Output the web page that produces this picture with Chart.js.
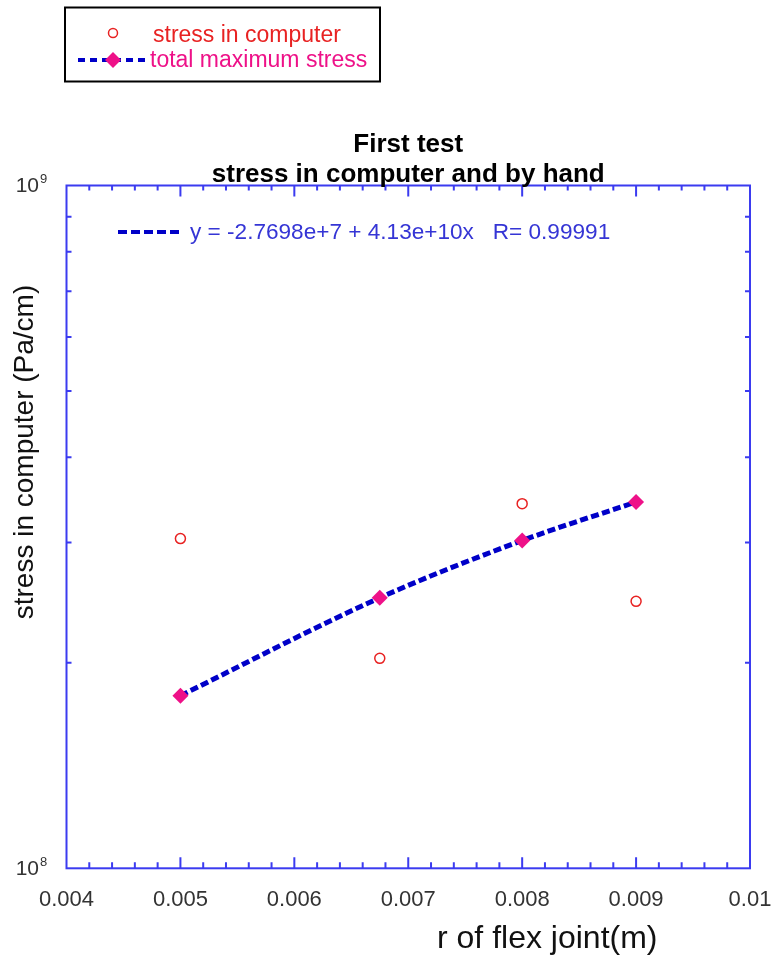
<!DOCTYPE html>
<html><head><meta charset="utf-8">
<script src="https://cdn.jsdelivr.net/npm/chart.js@4"></script>
<style>html,body{margin:0;padding:0;background:#fff;}#wrap{position:relative;width:771px;height:958px;}</style>
</head><body><div id="wrap"><canvas id="c" width="771" height="958"></canvas></div>
<script>
// ---- data ----
const rValues = [0.005, 0.00675, 0.008, 0.009];
const stressInComputer = [3.04e8, 2.03e8, 3.42e8, 2.46e8];
const totalMaximumStress = [1.79e8, 2.49e8, 3.02e8, 3.44e8];
const seriesNames = ['stress in computer', 'total maximum stress'];
const xTickValues = [0.004, 0.005, 0.006, 0.007, 0.008, 0.009, 0.01];
const xTickLabels = ['0.004', '0.005', '0.006', '0.007', '0.008', '0.009', '0.01'];
const yDecadeValues = [1e8, 1e9];
const yDecadeExponents = ['8', '9'];
const yMinorValues = [2e8, 3e8, 4e8, 5e8, 6e8, 7e8, 8e8, 9e8];
const titleLines = ['First test', 'stress in computer and by hand'];
const xAxisTitle = 'r of flex joint(m)';
const yAxisTitle = 'stress in computer (Pa/cm)';
const fitLabel = 'y = -2.7698e+7 + 4.13e+10x   R= 0.99991';

const FONT = "'Liberation Sans', Arial, sans-serif";
const AXIS = '#3b3bf0';
const RED = '#e82222';
const PINK = '#ee1188';
const BLUE = '#0000c8';

const decor = {
  id: 'decor',
  beforeDatasetsDraw(chart) {
    const {ctx, chartArea: a, scales: {x, y}} = chart;
    ctx.save();
    ctx.strokeStyle = AXIS;
    ctx.lineWidth = 2;
    ctx.strokeRect(a.left, a.top, a.right - a.left, a.bottom - a.top);
    ctx.beginPath();
    for (let i = 0; i < xTickValues.length; i++) {
      const v = xTickValues[i];
      const px = x.getPixelForValue(v);
      if (i > 0 && i < xTickValues.length - 1) {
        ctx.moveTo(px, a.bottom); ctx.lineTo(px, a.bottom - 11);
        ctx.moveTo(px, a.top); ctx.lineTo(px, a.top + 11);
      }
      if (i < xTickValues.length - 1) {
        const next = xTickValues[i + 1];
        for (let k = 1; k < 5; k++) {
          const m = x.getPixelForValue(v + (next - v) * k / 5);
          ctx.moveTo(m, a.bottom); ctx.lineTo(m, a.bottom - 6);
          ctx.moveTo(m, a.top); ctx.lineTo(m, a.top + 5);
        }
      }
    }
    for (const v of yMinorValues) {
      const py = y.getPixelForValue(v);
      ctx.moveTo(a.left, py); ctx.lineTo(a.left + 5, py);
      ctx.moveTo(a.right, py); ctx.lineTo(a.right - 5, py);
    }
    ctx.stroke();
    ctx.restore();
  },
  afterDraw(chart) {
    const {ctx, chartArea: a, scales: {x, y}} = chart;
    ctx.save();
    // x tick labels
    ctx.fillStyle = '#333';
    ctx.font = '22px ' + FONT;
    ctx.textAlign = 'center'; ctx.textBaseline = 'middle';
    for (let i = 0; i < xTickValues.length; i++) {
      ctx.fillText(xTickLabels[i], x.getPixelForValue(xTickValues[i]), a.bottom + 32);
    }
    // y decade labels
    for (let i = 0; i < yDecadeValues.length; i++) {
      const py = y.getPixelForValue(yDecadeValues[i]);
      ctx.font = '21px ' + FONT;
      ctx.textAlign = 'right'; ctx.textBaseline = 'middle';
      ctx.fillText('10', 39, py + 1);
      ctx.font = '13px ' + FONT;
      ctx.textAlign = 'left'; ctx.textBaseline = 'alphabetic';
      ctx.fillText(yDecadeExponents[i], 40, py - 2.5);
    }
    // title
    ctx.fillStyle = '#000';
    ctx.font = 'bold 26px ' + FONT;
    ctx.textAlign = 'center'; ctx.textBaseline = 'alphabetic';
    const cx = (a.left + a.right) / 2;
    ctx.fillText(titleLines[0], cx, 152);
    ctx.fillText(titleLines[1], cx, 182);
    // axis titles
    ctx.font = '32px ' + FONT;
    ctx.fillStyle = '#111';
    ctx.textAlign = 'left';
    ctx.fillText(xAxisTitle, 437, 948);
    ctx.save();
    ctx.translate(25, 452);
    ctx.rotate(-Math.PI / 2);
    ctx.font = '28px ' + FONT;
    ctx.textAlign = 'center'; ctx.textBaseline = 'middle';
    ctx.fillText(yAxisTitle, 0, 0);
    ctx.restore();
    // fit label
    ctx.strokeStyle = BLUE; ctx.lineWidth = 4; ctx.setLineDash([9, 4]);
    ctx.beginPath(); ctx.moveTo(118, 232); ctx.lineTo(181, 232); ctx.stroke();
    ctx.setLineDash([]);
    ctx.fillStyle = '#3535d5';
    ctx.font = '22.6px ' + FONT;
    ctx.textAlign = 'left'; ctx.textBaseline = 'middle';
    ctx.fillText(fitLabel, 190, 233);
    // legend
    ctx.strokeStyle = '#000'; ctx.lineWidth = 2;
    ctx.strokeRect(65, 7.5, 315, 74);
    ctx.strokeStyle = RED; ctx.lineWidth = 1.5;
    ctx.beginPath(); ctx.arc(113, 33, 4.5, 0, Math.PI * 2); ctx.stroke();
    ctx.font = '23px ' + FONT; ctx.textBaseline = 'alphabetic';
    ctx.fillStyle = RED;
    ctx.fillText(seriesNames[0], 153, 42);
    ctx.strokeStyle = BLUE; ctx.lineWidth = 4; ctx.setLineDash([7, 5]);
    ctx.beginPath(); ctx.moveTo(78, 60); ctx.lineTo(148, 60); ctx.stroke();
    ctx.setLineDash([]);
    ctx.fillStyle = PINK;
    ctx.beginPath(); ctx.moveTo(105, 60); ctx.lineTo(113, 52); ctx.lineTo(121, 60); ctx.lineTo(113, 68); ctx.closePath(); ctx.fill();
    ctx.fillText(seriesNames[1], 150, 67);
    ctx.restore();
  }
};

new Chart(document.getElementById('c'), {
  type: 'scatter',
  data: {
    datasets: [
      {
        label: seriesNames[1],
        data: rValues.map((v, i) => ({x: v, y: totalMaximumStress[i]})),
        showLine: true,
        borderColor: BLUE, borderWidth: 5, borderDash: [8, 3.5],
        cubicInterpolationMode: 'monotone',
        pointStyle: 'rectRot', pointRadius: 8,
        pointBackgroundColor: PINK, pointBorderColor: PINK, pointBorderWidth: 0
      },
      {
        label: seriesNames[0],
        data: rValues.map((v, i) => ({x: v, y: stressInComputer[i]})),
        showLine: false,
        pointStyle: 'circle', pointRadius: 5,
        pointBackgroundColor: 'rgba(0,0,0,0)', pointBorderColor: RED, pointBorderWidth: 1.5
      }
    ]
  },
  options: {
    responsive: false, animation: false, devicePixelRatio: 1,
    layout: {padding: {left: 66.5, right: 21, top: 185.5, bottom: 89.7}},
    plugins: {legend: {display: false}, tooltip: {enabled: false}, title: {display: false}},
    scales: {
      x: {
        type: 'linear', min: 0.004, max: 0.01,
        grid: {display: false, drawTicks: false}, border: {display: false},
        afterBuildTicks: s => { s.ticks = xTickValues.map(v => ({value: v})); },
        ticks: {display: false}
      },
      y: {type: 'logarithmic', min: 1e8, max: 1e9, display: false}
    }
  },
  plugins: [decor]
});
</script></body></html>
